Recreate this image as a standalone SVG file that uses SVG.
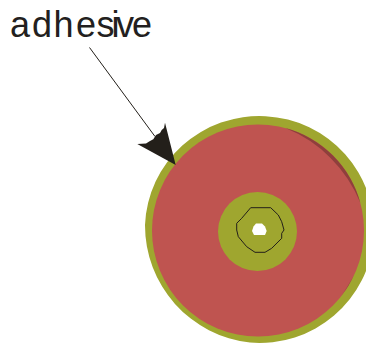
<svg xmlns="http://www.w3.org/2000/svg" width="366" height="343" viewBox="0 0 366 343">
<style>
.olive{fill:#9fa62f}
.red{fill:#bf5450}
.shade{fill:#8f3f3c}
.dark{fill:#231f1a}
.thin{fill:none;stroke:#231f1a;stroke-linejoin:round}
text{font-family:"Liberation Sans",Arial,sans-serif;font-size:36px;fill:#231f20}
</style>
<g id="disc">
<path class="olive" d="M145 225A114.500 113.500 0 1 1 250 342.600A118 118 0 0 1 145 225Z"/>
<circle class="red" cx="258" cy="230.500" r="106"/>
<path class="shade" d="M285.400 128.100A106 106 0 0 1 360.400 203A135 135 0 0 0 285.400 128.100Z"/>
<path class="shade" d="M354 275.300A106 106 0 0 1 341.500 295.800A300 300 0 0 0 354 275.300Z"/>
<circle class="olive" cx="257.500" cy="231.500" r="39.500"/>
<path class="thin" d="M250.700 207.700H270.700L278.300 215L281.700 221.700L284 230L281.700 233.300V238.300L271.700 248.300L265 252.300H255L246.700 246.700L238.300 236.700L236.700 230V223.300L241.700 218.300Z"/>
<path d="M256 223.500H262L265 226.500L266.700 231L265 235H254L252 231L253.500 226.500Z" fill="#fff"/>
</g>
<g id="label">
<text x="10 32 53.500 76 96.500 111.500 116 132" y="37">adhesive</text>
</g>
<g id="connectors">
<path d="M89.500 47.500L155 136.500" fill="none" stroke="#231f1a" stroke-width="1"/>
<path class="dark" d="M175.700 165L137.300 144L146 143.500L150 141L153.300 139.300L156 135L160 133L161.700 130L164 128L165 122.700Z"/>
</g>
</svg>
